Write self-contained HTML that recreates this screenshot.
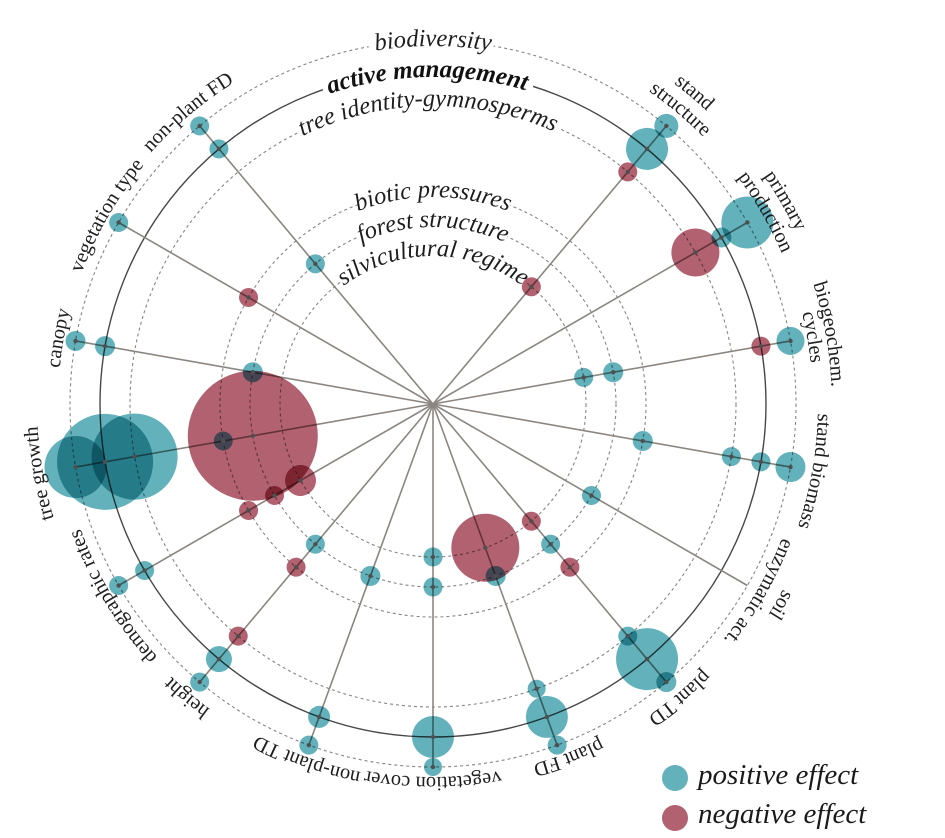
<!DOCTYPE html>
<html><head><meta charset="utf-8"><style>
html,body{margin:0;padding:0;background:#fff;}
svg{display:block;}
.c{mix-blend-mode:multiply;}
.t{fill:#62b1bb;}
.r{fill:#b26170;}
.lab{font-family:"Liberation Serif",serif;font-size:20.5px;fill:#1e1e1e;}
.ring{font-family:"Liberation Serif",serif;font-style:italic;font-size:24.5px;fill:#1e1e1e;}
</style></head><body>
<svg width="945" height="838" viewBox="0 0 945 838" xmlns="http://www.w3.org/2000/svg">
<rect width="945" height="838" fill="#fff"/>
<defs>
<path id="p358" d="M75 404 A358 358 0 0 1 791 404"/>
<path id="p327" d="M106 404 A327 327 0 0 1 760 404"/>
<path id="p298" d="M135 404 A298 298 0 0 1 731 404"/>
<path id="p207" d="M226 404 A207 207 0 0 1 640 404"/>
<path id="p177" d="M256 404 A177 177 0 0 1 610 404"/>
<path id="p148" d="M285 404 A148 148 0 0 1 581 404"/>
<path id="p401" d="M32 404 A401 401 0 0 1 834 404"/>
<path id="p380" d="M53 404 A380 380 0 0 1 813 404"/>
<path id="p402" d="M31 404 A402 402 0 0 1 835 404"/>
<path id="p399" d="M34 404 A399 399 0 0 1 832 404"/>
<path id="p385" d="M48 404 A385 385 0 0 1 818 404"/>
<path id="p396" d="M37 404 A396 396 0 0 1 829 404"/>
<path id="p374" d="M59 404 A374 374 0 0 1 807 404"/>
<path id="p379" d="M54 404 A379 379 0 0 1 812 404"/>
<path id="p373" d="M60 404 A373 373 0 0 1 806 404"/>
<path id="p375" d="M58 404 A375 375 0 0 1 808 404"/>
<path id="p378" d="M55 404 A378 378 0 0 1 811 404"/>
</defs>

<!-- rings -->
<g fill="none" stroke="#858585" stroke-width="1.1" stroke-dasharray="3 3">
<circle cx="433" cy="404" r="363"/>
<circle cx="433" cy="404" r="303"/>
<circle cx="433" cy="404" r="213"/>
<circle cx="433" cy="404" r="183"/>
<circle cx="433" cy="404" r="153"/>
</g>
<circle cx="433" cy="404" r="333" fill="none" stroke="#474747" stroke-width="1.4"/>

<!-- gaps for ring labels -->
<g fill="none" stroke="#fff" stroke-width="5">
<path d="M368.7 46.7 A363 363 0 0 1 493.5 46.1"/>
<path d="M322.9 89.7 A333 333 0 0 1 533.1 86.4"/>
<path d="M297.8 132.8 A303 303 0 0 1 560.1 128.9"/>
<path d="M358.1 204.6 A213 213 0 0 1 510 205.4"/>
<path d="M357.1 237.5 A183 183 0 0 1 507.1 236.7"/>
<path d="M340.1 282.5 A153 153 0 0 1 525.1 281.8"/>
</g>

<!-- spokes -->
<g stroke="#8b8680" stroke-width="1.6">
<line x1="433" y1="404" x2="433" y2="41" transform="rotate(40 433 404)"/>
<line x1="433" y1="404" x2="433" y2="41" transform="rotate(60 433 404)"/>
<line x1="433" y1="404" x2="433" y2="41" transform="rotate(80 433 404)"/>
<line x1="433" y1="404" x2="433" y2="41" transform="rotate(100 433 404)"/>
<line x1="433" y1="404" x2="433" y2="41" transform="rotate(120 433 404)"/>
<line x1="433" y1="404" x2="433" y2="41" transform="rotate(140 433 404)"/>
<line x1="433" y1="404" x2="433" y2="41" transform="rotate(160 433 404)"/>
<line x1="433" y1="404" x2="433" y2="41" transform="rotate(180 433 404)"/>
<line x1="433" y1="404" x2="433" y2="41" transform="rotate(200 433 404)"/>
<line x1="433" y1="404" x2="433" y2="41" transform="rotate(220 433 404)"/>
<line x1="433" y1="404" x2="433" y2="41" transform="rotate(240 433 404)"/>
<line x1="433" y1="404" x2="433" y2="41" transform="rotate(260 433 404)"/>
<line x1="433" y1="404" x2="433" y2="41" transform="rotate(280 433 404)"/>
<line x1="433" y1="404" x2="433" y2="41" transform="rotate(300 433 404)"/>
<line x1="433" y1="404" x2="433" y2="41" transform="rotate(320 433 404)"/>
</g>

<!-- data circles -->
<g transform="rotate(40 433 404)">
<circle class="c t" cx="433" cy="41" r="12"/><circle class="c t" cx="433" cy="71" r="21"/><circle class="c r" cx="433" cy="101" r="9.5"/><circle class="c r" cx="433" cy="251" r="9.5"/>
</g>
<g transform="rotate(60 433 404)">
<circle class="c t" cx="433" cy="41" r="26"/><circle class="c t" cx="433" cy="71" r="10"/><circle class="c r" cx="433" cy="101" r="24"/>
</g>
<g transform="rotate(80 433 404)">
<circle class="c t" cx="433" cy="41" r="14"/><circle class="c r" cx="433" cy="71" r="9.5"/><circle class="c t" cx="433" cy="221" r="10"/><circle class="c t" cx="433" cy="251" r="9.5"/>
</g>
<g transform="rotate(100 433 404)">
<circle class="c t" cx="433" cy="41" r="15"/><circle class="c t" cx="433" cy="71" r="9.5"/><circle class="c t" cx="433" cy="101" r="9.5"/><circle class="c t" cx="433" cy="191" r="10"/>
</g>
<g transform="rotate(120 433 404)">
<circle class="c t" cx="433" cy="221" r="9.5"/>
</g>
<g transform="rotate(140 433 404)">
<circle class="c r" cx="433" cy="251" r="9.5"/><circle class="c t" cx="433" cy="221" r="9.5"/><circle class="c r" cx="433" cy="191" r="9.5"/><circle class="c t" cx="433" cy="101" r="9.5"/><circle class="c t" cx="433" cy="71" r="31"/><circle class="c t" cx="433" cy="41" r="10"/>
</g>
<g transform="rotate(160 433 404)">
<circle class="c r" cx="433" cy="251" r="34"/><circle class="c t" cx="433" cy="221" r="10"/><circle class="c t" cx="433" cy="101" r="9"/><circle class="c t" cx="433" cy="71" r="21"/><circle class="c t" cx="433" cy="41" r="9.5"/>
</g>
<g transform="rotate(180 433 404)">
<circle class="c t" cx="433" cy="251" r="9.5"/><circle class="c t" cx="433" cy="221" r="9.5"/><circle class="c t" cx="433" cy="71" r="21"/><circle class="c t" cx="433" cy="41" r="9"/>
</g>
<g transform="rotate(200 433 404)">
<circle class="c t" cx="433" cy="221" r="10"/><circle class="c t" cx="433" cy="71" r="11"/><circle class="c t" cx="433" cy="41" r="9.5"/>
</g>
<g transform="rotate(220 433 404)">
<circle class="c t" cx="433" cy="221" r="9.5"/><circle class="c r" cx="433" cy="191" r="9.5"/><circle class="c r" cx="433" cy="101" r="9.5"/><circle class="c t" cx="433" cy="71" r="13"/><circle class="c t" cx="433" cy="41" r="9.5"/>
</g>
<g transform="rotate(240 433 404)">
<circle class="c r" cx="433" cy="251" r="15.5"/><circle class="c r" cx="433" cy="221" r="9.5"/><circle class="c r" cx="433" cy="191" r="9.5"/><circle class="c t" cx="433" cy="71" r="9.5"/><circle class="c t" cx="433" cy="41" r="9.5"/>
</g>
<g transform="rotate(260 433 404)">
<circle class="c r" cx="433" cy="221" r="65"/><circle class="c t" cx="433" cy="191" r="9.5"/><circle class="c t" cx="433" cy="101" r="43"/><circle class="c t" cx="433" cy="71" r="48"/><circle class="c t" cx="433" cy="41" r="31"/>
</g>
<g transform="rotate(280 433 404)">
<circle class="c t" cx="433" cy="221" r="10"/><circle class="c t" cx="433" cy="71" r="10"/><circle class="c t" cx="433" cy="41" r="10"/>
</g>
<g transform="rotate(300 433 404)">
<circle class="c r" cx="433" cy="191" r="9.5"/><circle class="c t" cx="433" cy="41" r="9.5"/>
</g>
<g transform="rotate(320 433 404)">
<circle class="c t" cx="433" cy="221" r="9.5"/><circle class="c t" cx="433" cy="71" r="9.5"/><circle class="c t" cx="433" cy="41" r="9.5"/>
</g>

<!-- center dots -->
<g fill="#4f4f4f">
<g transform="rotate(40 433 404)"><circle cx="433" cy="41" r="2.2"/><circle cx="433" cy="71" r="2.2"/><circle cx="433" cy="101" r="2.2"/><circle cx="433" cy="251" r="2.2"/></g>
<g transform="rotate(60 433 404)"><circle cx="433" cy="41" r="2.2"/><circle cx="433" cy="71" r="2.2"/><circle cx="433" cy="101" r="2.2"/></g>
<g transform="rotate(80 433 404)"><circle cx="433" cy="41" r="2.2"/><circle cx="433" cy="71" r="2.2"/><circle cx="433" cy="221" r="2.2"/><circle cx="433" cy="251" r="2.2"/></g>
<g transform="rotate(100 433 404)"><circle cx="433" cy="41" r="2.2"/><circle cx="433" cy="71" r="2.2"/><circle cx="433" cy="101" r="2.2"/><circle cx="433" cy="191" r="2.2"/></g>
<g transform="rotate(120 433 404)"><circle cx="433" cy="221" r="2.2"/></g>
<g transform="rotate(140 433 404)"><circle cx="433" cy="251" r="2.2"/><circle cx="433" cy="221" r="2.2"/><circle cx="433" cy="191" r="2.2"/><circle cx="433" cy="101" r="2.2"/><circle cx="433" cy="71" r="2.2"/><circle cx="433" cy="41" r="2.2"/></g>
<g transform="rotate(160 433 404)"><circle cx="433" cy="251" r="2.2"/><circle cx="433" cy="221" r="2.2"/><circle cx="433" cy="101" r="2.2"/><circle cx="433" cy="71" r="2.2"/><circle cx="433" cy="41" r="2.2"/></g>
<g transform="rotate(180 433 404)"><circle cx="433" cy="251" r="2.2"/><circle cx="433" cy="221" r="2.2"/><circle cx="433" cy="71" r="2.2"/><circle cx="433" cy="41" r="2.2"/></g>
<g transform="rotate(200 433 404)"><circle cx="433" cy="221" r="2.2"/><circle cx="433" cy="71" r="2.2"/><circle cx="433" cy="41" r="2.2"/></g>
<g transform="rotate(220 433 404)"><circle cx="433" cy="221" r="2.2"/><circle cx="433" cy="191" r="2.2"/><circle cx="433" cy="101" r="2.2"/><circle cx="433" cy="71" r="2.2"/><circle cx="433" cy="41" r="2.2"/></g>
<g transform="rotate(240 433 404)"><circle cx="433" cy="251" r="2.2"/><circle cx="433" cy="221" r="2.2"/><circle cx="433" cy="191" r="2.2"/><circle cx="433" cy="71" r="2.2"/><circle cx="433" cy="41" r="2.2"/></g>
<g transform="rotate(260 433 404)"><circle cx="433" cy="221" r="2.2"/><circle cx="433" cy="191" r="2.2"/><circle cx="433" cy="101" r="2.2"/><circle cx="433" cy="71" r="2.2"/><circle cx="433" cy="41" r="2.2"/></g>
<g transform="rotate(280 433 404)"><circle cx="433" cy="221" r="2.2"/><circle cx="433" cy="71" r="2.2"/><circle cx="433" cy="41" r="2.2"/></g>
<g transform="rotate(300 433 404)"><circle cx="433" cy="191" r="2.2"/><circle cx="433" cy="41" r="2.2"/></g>
<g transform="rotate(320 433 404)"><circle cx="433" cy="221" r="2.2"/><circle cx="433" cy="71" r="2.2"/><circle cx="433" cy="41" r="2.2"/></g>
</g>

<!-- ring labels -->
<text class="ring" text-anchor="middle"><textPath href="#p358" startOffset="50%">biodiversity</textPath></text>
<g transform="rotate(-1 433 404)">
<text class="ring" text-anchor="middle" style="font-weight:bold;font-size:25px;fill:#111"><textPath href="#p327" startOffset="50%">active management</textPath></text>
<text class="ring" text-anchor="middle"><textPath href="#p298" startOffset="50%">tree identity-gymnosperms</textPath></text>
</g>
<text class="ring" text-anchor="middle"><textPath href="#p207" startOffset="50%">biotic pressures</textPath></text>
<text class="ring" text-anchor="middle"><textPath href="#p177" startOffset="50%">forest structure</textPath></text>
<text class="ring" text-anchor="middle"><textPath href="#p148" startOffset="50%">silvicultural regime</textPath></text>

<!-- category labels -->
<g transform="rotate(40 433 404)">
<text class="lab" text-anchor="middle"><textPath href="#p401" startOffset="50%">stand</textPath></text>
<text class="lab" text-anchor="middle"><textPath href="#p380" startOffset="50%">structure</textPath></text>
</g>
<g transform="rotate(60 433 404)">
<text class="lab" text-anchor="middle"><textPath href="#p402" startOffset="50%">primary</textPath></text>
<text class="lab" text-anchor="middle"><textPath href="#p380" startOffset="50%">production</textPath></text>
</g>
<g transform="rotate(80 433 404)">
<text class="lab" text-anchor="middle"><textPath href="#p399" startOffset="50%">biogeochem.</textPath></text>
<text class="lab" text-anchor="middle"><textPath href="#p380" startOffset="50%">cycles</textPath></text>
</g>
<g transform="rotate(100 433 404)">
<text class="lab" text-anchor="middle"><textPath href="#p385" startOffset="50%">stand biomass</textPath></text>
</g>
<g transform="rotate(120 433 404)">
<text class="lab" text-anchor="middle"><textPath href="#p396" startOffset="50%">soil</textPath></text>
<text class="lab" text-anchor="middle"><textPath href="#p374" startOffset="50%">enzymatic act.</textPath></text>
</g>
<g transform="rotate(140 433 404)">
<text class="lab" text-anchor="middle"><textPath href="#p379" startOffset="50%">plant TD</textPath></text>
</g>
<g transform="rotate(159 433 404)">
<text class="lab" text-anchor="middle"><textPath href="#p374" startOffset="50%">plant FD</textPath></text>
</g>
<g transform="rotate(180 433 404)">
<text class="lab" text-anchor="middle"><textPath href="#p373" startOffset="50%">vegetation cover</textPath></text>
</g>
<g transform="rotate(199.5 433 404)">
<text class="lab" text-anchor="middle"><textPath href="#p375" startOffset="50%">non-plant TD</textPath></text>
</g>
<g transform="rotate(220 433 404)">
<text class="lab" text-anchor="middle"><textPath href="#p378" startOffset="50%">height</textPath></text>
</g>
<g transform="rotate(239 433 404)">
<text class="lab" text-anchor="middle"><textPath href="#p374" startOffset="50%">demographic rates</textPath></text>
</g>
<g transform="rotate(260 433 404)">
<text class="lab" text-anchor="middle"><textPath href="#p396" startOffset="50%">tree growth</textPath></text>
</g>
<g transform="rotate(280 433 404)">
<text class="lab" text-anchor="middle"><textPath href="#p375" startOffset="50%">canopy</textPath></text>
</g>
<g transform="rotate(300 433 404)">
<text class="lab" text-anchor="middle"><textPath href="#p375" startOffset="50%">vegetation type</textPath></text>
</g>
<g transform="rotate(320 433 404)">
<text class="lab" text-anchor="middle"><textPath href="#p378" startOffset="50%">non-plant FD</textPath></text>
</g>

<!-- legend -->
<circle cx="675" cy="778" r="13" fill="#62b1bb"/>
<circle cx="675" cy="818" r="13" fill="#b26170"/>
<text x="698" y="784" style="font-family:'Liberation Serif',serif;font-style:italic;font-size:29px;fill:#1a1a1a">positive effect</text>
<text x="698" y="823" style="font-family:'Liberation Serif',serif;font-style:italic;font-size:29px;fill:#1a1a1a">negative effect</text>
</svg>
</body></html>
